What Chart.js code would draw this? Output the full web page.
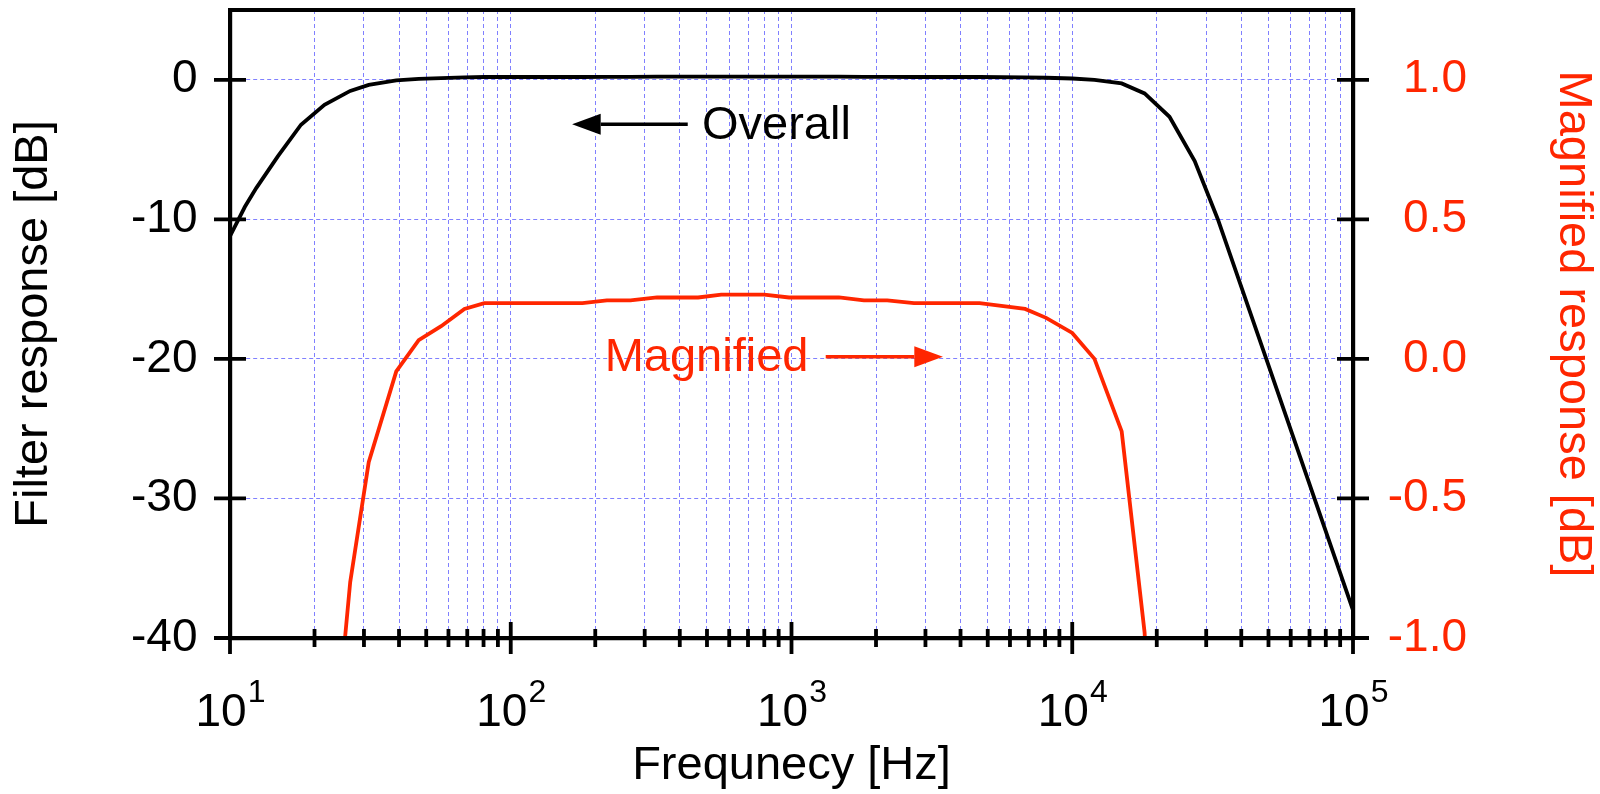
<!DOCTYPE html>
<html>
<head>
<meta charset="utf-8">
<title>Filter response</title>
<script src="https://cdn.jsdelivr.net/npm/chart.js@4.4.1/dist/chart.umd.min.js"></script>
<style>
    html, body { margin: 0; padding: 0; background: #fff; }
    #wrap { width: 1600px; height: 794px; position: relative; }
</style>
</head>
<body>
<div id="wrap"><canvas id="responseChart"></canvas></div>
<script>
// Points (frequency in Hz, response in dB)
const freqHz = [10, 11.3, 12.4, 14.8, 17.9, 21.7, 26.8, 31.2, 39.1, 47, 56.5, 68.4, 80.5,
    180, 220, 267, 332, 465, 562, 800, 980, 1476, 1811, 2193, 2729, 4677, 6792, 8072,
    10000, 12000, 15000, 18100, 22200, 27300, 33000, 49100, 100000];
const overallDb = [-11.2, -9.1, -7.76, -5.49, -3.22, -1.79, -0.80, -0.37, -0.045, 0.067, 0.117, 0.179, 0.20,
    0.20, 0.21, 0.21, 0.22, 0.22, 0.23, 0.23, 0.22, 0.22, 0.21, 0.21, 0.20, 0.20, 0.179, 0.147,
    0.093, 0.0, -0.26, -0.98, -2.65, -5.83, -9.99, -20.0, -38.0];
// the red trace is the same response, shown on the expanded right-hand scale
const magnifiedDb = overallDb;

// Axis ticks
const leftTicks = [-40, -30, -20, -10, 0];
const rightTicks = [-1.0, -0.5, 0.0, 0.5, 1.0];
const decadeTicks = [10, 100, 1000, 10000, 100000];
const decadeExponents = [1, 2, 3, 4, 5];
const xTicks = [];
decadeTicks.slice(0, -1).forEach(d => {
    for (let m = 1; m <= 9; m++) xTicks.push(d * m);
});
xTicks.push(100000);

const RED = '#ff2600';
const GRID_BLUE = '#8080ff';
const FONT = '"Liberation Sans", Arial, Helvetica, sans-serif';

// Text labels with arrows inside the plot
const notes = [
    { text: 'Overall', color: '#000', textHz: 480, textDb: -4.21, tailHz: 427, headHz: 165.4, arrowDb: -3.19 },
    { text: 'Magnified', color: RED, textHz: 216, textDb: -20.84, tailHz: 1324, headHz: 3462, arrowDb: -19.84 }
];

Chart.defaults.font.family = FONT;

// keep the plot frame where it is in the original figure
function noLabelPadding(s) {
    s.paddingTop = 0;
    s.paddingBottom = 0;
    s.paddingLeft = 0;
    s.paddingRight = 0;
}

const axisExtras = {
    id: 'axisExtras',
    afterDraw(chart) {
        const { ctx, chartArea: area, scales: { x, y, yRight } } = chart;
        ctx.save();

        // top edge of the frame
        ctx.strokeStyle = '#000';
        ctx.lineWidth = 4.2;
        ctx.beginPath();
        ctx.moveTo(area.left - 2, area.top);
        ctx.lineTo(area.right + 2, area.top);
        ctx.stroke();

        // tick marks cross the axis lines
        ctx.lineWidth = 3.8;
        ctx.beginPath();
        y.ticks.forEach(t => {
            const py = y.getPixelForValue(t.value);
            ctx.moveTo(area.left - 16, py);
            ctx.lineTo(area.left + 16, py);
        });
        yRight.ticks.forEach(t => {
            const py = yRight.getPixelForValue(t.value);
            ctx.moveTo(area.right - 16, py);
            ctx.lineTo(area.right + 16, py);
        });
        x.ticks.forEach(t => {
            const px = x.getPixelForValue(t.value);
            const len = decadeTicks.includes(t.value) ? 16 : 9;
            ctx.moveTo(px, area.bottom - len);
            ctx.lineTo(px, area.bottom + len);
        });
        ctx.stroke();

        // decade labels as 10 with a raised exponent
        ctx.fillStyle = '#000';
        ctx.textAlign = 'left';
        ctx.textBaseline = 'alphabetic';
        decadeTicks.forEach((v, i) => {
            const px = x.getPixelForValue(v);
            ctx.font = `46px ${FONT}`;
            const w1 = ctx.measureText('10').width;
            ctx.font = `32px ${FONT}`;
            const exp = String(decadeExponents[i]);
            const w2 = ctx.measureText(exp).width;
            const start = px - (w1 + w2) / 2;
            ctx.font = `46px ${FONT}`;
            ctx.fillText('10', start, area.bottom + 88);
            ctx.font = `32px ${FONT}`;
            ctx.fillText(exp, start + w1 + 1, area.bottom + 63.5);
        });

        // annotations
        notes.forEach(n => {
            const tx = x.getPixelForValue(n.textHz);
            const ty = y.getPixelForValue(n.textDb);
            ctx.fillStyle = n.color;
            ctx.strokeStyle = n.color;
            ctx.font = `47px ${FONT}`;
            ctx.fillText(n.text, tx, ty);

            const tail = x.getPixelForValue(n.tailHz);
            const tip = x.getPixelForValue(n.headHz);
            const ay = y.getPixelForValue(n.arrowDb);
            const dir = tail > tip ? 1 : -1;
            const base = tip + dir * 28.6;
            ctx.lineWidth = 3.5;
            ctx.beginPath();
            ctx.moveTo(tail, ay);
            ctx.lineTo(base, ay);
            ctx.stroke();
            ctx.beginPath();
            ctx.moveTo(tip, ay);
            ctx.lineTo(base, ay - 10.5);
            ctx.lineTo(base, ay + 10.5);
            ctx.closePath();
            ctx.fill();
        });

        ctx.restore();
    }
};

const ctx = document.getElementById('responseChart');
new Chart(ctx, {
    type: 'line',
    data: {
        datasets: [{
            label: 'Overall',
            data: freqHz.map((f, i) => ({ x: f, y: overallDb[i] })),
            borderColor: '#000',
            borderWidth: 3.8,
            pointRadius: 0,
            tension: 0,
            clip: 0,
            yAxisID: 'y'
        }, {
            label: 'Magnified',
            data: freqHz.map((f, i) => ({ x: f, y: magnifiedDb[i] })),
            borderColor: RED,
            borderWidth: 3.8,
            pointRadius: 0,
            tension: 0,
            clip: 0,
            yAxisID: 'yRight'
        }]
    },
    options: {
        responsive: true,
        maintainAspectRatio: false,
        animation: false,
        devicePixelRatio: 1,
        events: [],
        layout: { padding: { top: 10, left: 0, right: 133, bottom: 0 } },
        plugins: {
            legend: { display: false },
            tooltip: { enabled: false }
        },
        scales: {
            x: {
                type: 'logarithmic',
                position: 'bottom',
                min: 10,
                max: 100000,
                afterBuildTicks: s => { s.ticks = xTicks.map(v => ({ value: v })); },
                afterFit: s => { s.height = 156; noLabelPadding(s); },
                ticks: { display: false, autoSkip: false },
                grid: { color: GRID_BLUE, lineWidth: 1, drawTicks: false },
                border: { color: '#000', width: 4.2, dash: [4, 3], z: 1 },
                title: {
                    display: true,
                    text: 'Frequnecy [Hz]',
                    color: '#000',
                    font: { size: 47 },
                    padding: { top: 0, bottom: 0 }
                }
            },
            y: {
                type: 'linear',
                position: 'left',
                min: -40,
                max: 5,
                afterBuildTicks: s => { s.ticks = leftTicks.map(v => ({ value: v })); },
                afterFit: s => { s.width = 230; noLabelPadding(s); },
                ticks: {
                    color: '#000',
                    font: { size: 46 },
                    padding: 32.5,
                    callback: v => String(v)
                },
                grid: { color: GRID_BLUE, lineWidth: 1, drawTicks: false },
                border: { color: '#000', width: 4.2, dash: [4, 3], z: 1 },
                title: {
                    display: true,
                    text: 'Filter response [dB]',
                    color: '#000',
                    font: { size: 47 },
                    padding: { top: 5.5, bottom: 0 }
                }
            },
            yRight: {
                type: 'linear',
                position: 'right',
                min: -1,
                max: 1.25,
                afterBuildTicks: s => { s.ticks = rightTicks.map(v => ({ value: v })); },
                // scale box ends where the right-aligned labels end
                afterFit: s => { s.width = 114; noLabelPadding(s); },
                ticks: {
                    color: RED,
                    font: { size: 46 },
                    crossAlign: 'far',
                    callback: v => Number(v).toFixed(1)
                },
                grid: { drawOnChartArea: false, drawTicks: false },
                border: { color: '#000', width: 4.2, z: 1 },
                title: {
                    display: true,
                    text: 'Magnified response [dB]',
                    color: RED,
                    font: { size: 47 },
                    // title sits in the right margin, beyond the scale box
                    padding: { top: -134.5, bottom: 0 }
                }
            }
        }
    },
    plugins: [axisExtras]
});
</script>
</body>
</html>
